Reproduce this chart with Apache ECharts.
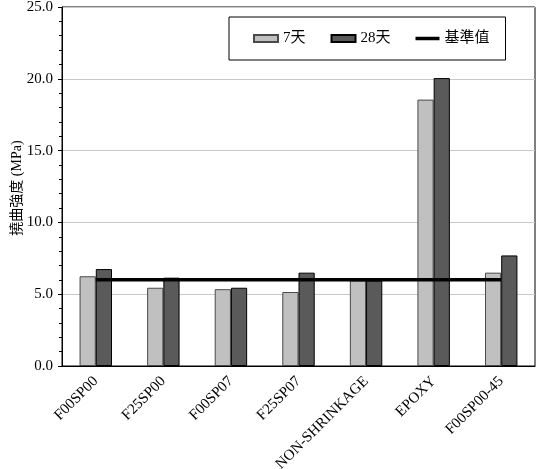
<!DOCTYPE html>
<html>
<head>
<meta charset="utf-8">
<script src="https://cdn.jsdelivr.net/npm/echarts@6/dist/echarts.min.js"></script>
<style>
  html, body { margin: 0; padding: 0; background: #fff; }
  #main { width: 540px; height: 469px; }
</style>
</head>
<body>
<div id="main"></div>
<script>
var categories = ['F00SP00', 'F25SP00', 'F00SP07', 'F25SP07', 'NON-SHRINKAGE', 'EPOXY', 'F00SP00-45'];
var day7 = [6.25, 5.45, 5.35, 5.15, 5.95, 18.55, 6.5];
var day28 = [6.75, 6.15, 5.45, 6.5, 5.95, 20.05, 7.7];
var baseline = [6.0, 6.0, 6.0, 6.0, 6.0, 6.0, 6.0];
var yTicks = [0, 5, 10, 15, 20, 25];
var yName = '撓曲強度 (MPa)';

var fontFam = '"Liberation Serif", "Noto Sans CJK TC", serif';

var myChart = echarts.init(document.getElementById('main'));
var option = {
    backgroundColor: '#fff',
    animation: false,
    grid: {left: 62, right: 5, top: 7, bottom: 103, show: true, borderColor: '#000', borderWidth: 1,
        containLabel: false, outerBoundsMode: 'none'},
    // y axis title drawn as rotated text
    graphic: [{
        type: 'text', x: 17, y: 188, rotation: Math.PI / 2,
        style: {text: yName, font: '14px ' + fontFam, fill: '#000', align: 'center', verticalAlign: 'middle'}
    }],
    legend: {
        left: 229, top: 17,
        padding: [14, 16, 14, 24],
        itemGap: 25,
        itemWidth: 24, itemHeight: 7,
        borderColor: '#000', borderWidth: 1,
        textStyle: {fontFamily: fontFam, fontSize: 15, color: '#000'},
        data: [
            {name: '7天', icon: 'rect'},
            {name: '28天', icon: 'rect'},
            {name: '基準值', icon: 'path://M0,0 L24,0 L24,3.5 L0,3.5 Z'}
        ]
    },
    xAxis: {
        type: 'category',
        data: categories,
        axisLine: {lineStyle: {color: '#000', width: 1}},
        axisTick: {show: false},
        axisLabel: {rotate: 45, fontFamily: fontFam, fontSize: 15, color: '#000', margin: 13, interval: 0}
    },
    yAxis: {
        type: 'value',
        min: yTicks[0], max: yTicks[yTicks.length - 1], interval: 5,
        axisLine: {show: true, lineStyle: {color: '#000', width: 1}},
        axisTick: {show: true, length: 4, lineStyle: {color: '#000'}},
        minorTick: {show: true, splitNumber: 5, length: 3, lineStyle: {color: '#000'}},
        axisLabel: {fontFamily: fontFam, fontSize: 15, color: '#000', margin: 9,
            formatter: function (v) { return v.toFixed(1); }},
        splitLine: {show: true, lineStyle: {color: '#c8c8c8', width: 1}}
    },
    series: [
        {type: 'bar', name: '7天', data: day7, barGap: '0%', barCategoryGap: '52%',
            itemStyle: {color: '#c0c0c0', borderColor: '#4a4a4a', borderWidth: 1}},
        {type: 'bar', name: '28天', data: day28, barGap: '0%', barCategoryGap: '52%',
            itemStyle: {color: '#5a5a5a', borderColor: '#000', borderWidth: 1}},
        {type: 'line', name: '基準值', data: baseline, symbol: 'none', z: 5,
            lineStyle: {color: '#000', width: 3.5}, itemStyle: {color: '#000'}}
    ]
};
myChart.setOption(option);
</script>
</body>
</html>
